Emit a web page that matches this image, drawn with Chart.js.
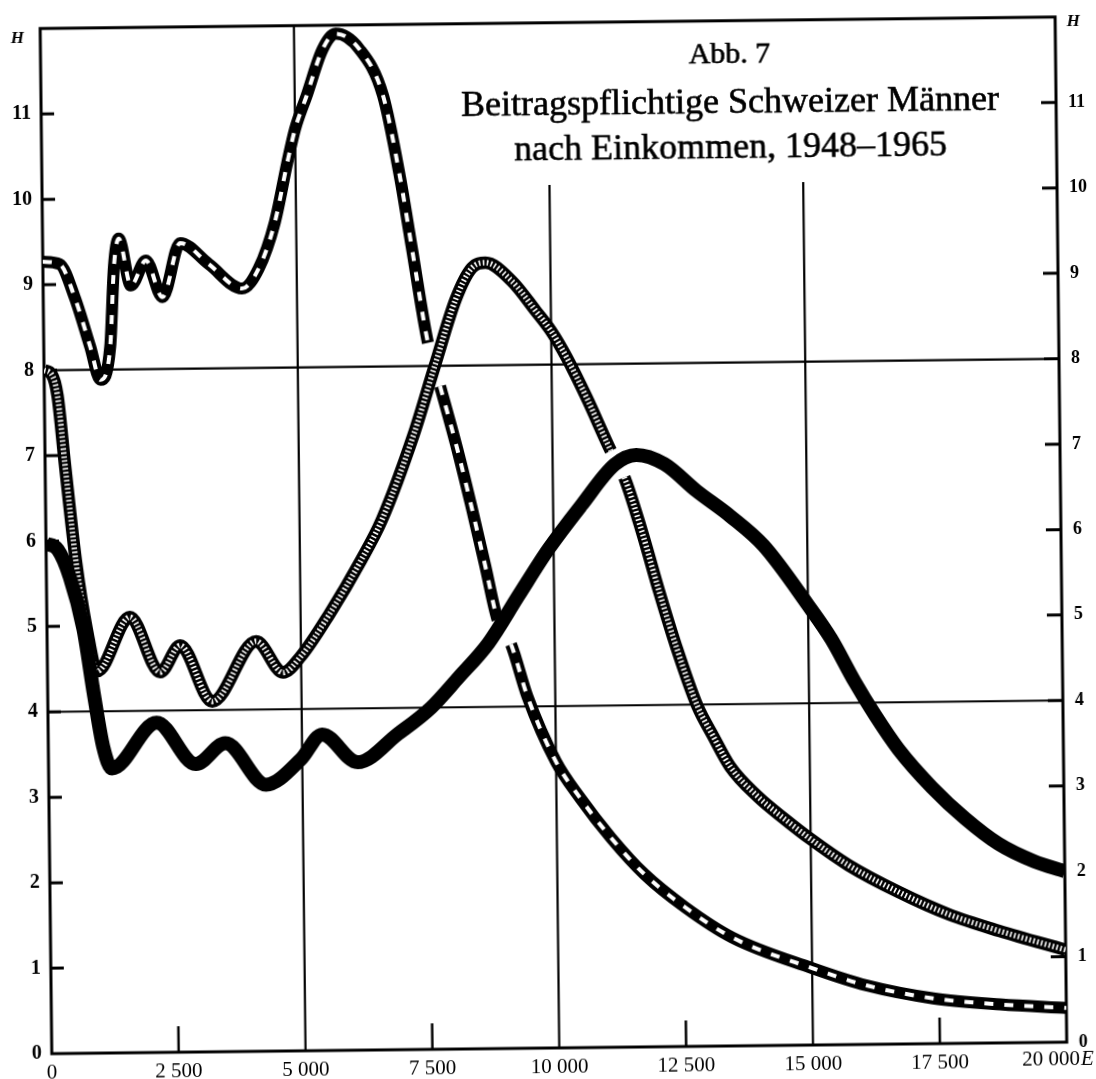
<!DOCTYPE html>
<html lang="de">
<head>
<meta charset="utf-8">
<title>Abb. 7 – Beitragspflichtige Schweizer Männer nach Einkommen</title>
<script src="https://cdn.jsdelivr.net/npm/chart.js@4.4.1/dist/chart.umd.min.js"></script>
<style>
  html, body { margin: 0; padding: 0; background: #fff; overflow: hidden; }
  #chart { display: block; transform: rotate(-0.65deg); transform-origin: 548px 540px; }
</style>
</head>
<body>
<canvas id="chart" width="1096" height="1079"></canvas>
<script>
// Income (E) on the x axis, frequency (H) on the y axis
const xTickValues = [0, 2500, 5000, 7500, 10000, 12500, 15000, 17500, 20000];
const xTickLabels = ['0', '2 500', '5 000', '7 500', '10 000', '12 500', '15 000', '17 500', '20 000'];
const yTickLabels = ['0', '1', '2', '3', '4', '5', '6', '7', '8', '9', '10', '11'];

// curve drawn with white dashes
const dashedX = [0, 330, 620, 915, 1110, 1310, 1400, 1500, 1730, 2030, 2350, 2710, 3270, 3920, 4250, 4580, 4840, 5000, 5230, 5560, 5820, 6280, 6740, 7060, 7270, 7570, 7800, 8125, 8390, 8650, 8880, 9140, 9450, 10000, 10470, 11070, 11720, 12510, 13430, 15000, 16070, 17380, 18700, 20000];
const dashedY = [9.27, 9.24, 8.85, 8.27, 7.88, 8.27, 9.2, 9.53, 8.98, 9.27, 8.84, 9.47, 9.22, 8.93, 9.16, 9.7, 10.4, 10.79, 11.17, 11.72, 11.9, 11.72, 11.17, 10.2, 9.4, 8.27, 7.76, 7.02, 6.35, 5.65, 5.02, 4.73, 4.12, 3.35, 2.92, 2.45, 2.02, 1.63, 1.27, 0.9, 0.69, 0.53, 0.45, 0.4];
const dashedBreaks = [7570, 8880];

// curve drawn with a ladder hatch
const hatchedX = [0, 150, 260, 390, 590, 785, 980, 1635, 2220, 2620, 3240, 4120, 4640, 5000, 5560, 6210, 6620, 7270, 7700, 8130, 8450, 8720, 9240, 9700, 10000, 10300, 10690, 11150, 11410, 11740, 12070, 12400, 12800, 13100, 13430, 13960, 14490, 15000, 15740, 16720, 17710, 18700, 20000];
const hatchedY = [8.0, 7.95, 7.7, 6.9, 5.74, 4.96, 4.47, 5.1, 4.45, 4.76, 4.1, 4.8, 4.43, 4.62, 5.1, 5.74, 6.2, 7.2, 8.0, 8.78, 9.14, 9.2, 8.98, 8.63, 8.39, 8.08, 7.6, 6.98, 6.67, 6.04, 5.33, 4.67, 3.98, 3.63, 3.27, 2.92, 2.65, 2.41, 2.1, 1.78, 1.51, 1.31, 1.08];
const hatchedBreaks = [11150];

// solid black curve
const solidX = [0, 230, 460, 720, 915, 1080, 1250, 2140, 2900, 3490, 4280, 4970, 5400, 6090, 6900, 7550, 8100, 8700, 9300, 9900, 10560, 11220, 11650, 12200, 12830, 13490, 14140, 15000, 15450, 15900, 16300, 16750, 17400, 18050, 18700, 19400, 20000];
const solidY = [5.97, 5.9, 5.58, 4.96, 4.18, 3.59, 3.33, 3.86, 3.37, 3.61, 3.12, 3.41, 3.7, 3.37, 3.7, 4.0, 4.35, 4.75, 5.3, 5.84, 6.35, 6.82, 6.93, 6.82, 6.5, 6.2, 5.85, 5.15, 4.75, 4.25, 3.85, 3.45, 3.0, 2.63, 2.33, 2.12, 2.0];

const serif = '"Liberation Serif", "Times New Roman", serif';

function points(xs, ys) {
    return xs.map((x, i) => ({ x: x, y: ys[i] }));
}

// leave out the short pieces where the printed curve is interrupted
function breakColor(xs, breaks, color) {
    return ctx => breaks.includes(xs[ctx.p0DataIndex]) ? 'rgba(0,0,0,0)' : color;
}

function curve(xs, ys, breaks, color, width, dash, order) {
    return {
        data: points(xs, ys),
        borderColor: color,
        borderWidth: width,
        borderDash: dash,
        order: order,
        segment: { borderColor: breakColor(xs, breaks, color) }
    };
}

// old print looks a bit heavier than the plain font
function inkText(ctx, text, x, y) {
    ctx.fillText(text, x, y);
    ctx.strokeText(text, x, y);
}

const paper = {
    id: 'paper',
    beforeDatasetsDraw(chart) {
        const { ctx, chartArea: a, scales: { x, y } } = chart;
        ctx.save();
        ctx.strokeStyle = '#000';
        ctx.fillStyle = '#000';
        ctx.lineCap = 'butt';

        // grid lines at H = 4, 8 and E = 5 000, 10 000, 15 000
        ctx.lineWidth = 2.2;
        ctx.beginPath();
        [4, 8].forEach(v => {
            const py = y.getPixelForValue(v);
            ctx.moveTo(a.left, py);
            ctx.lineTo(a.right, py);
        });
        [[5000, 12], [10000, 10.1], [15000, 10.1]].forEach(([v, top]) => {
            const px = x.getPixelForValue(v);
            ctx.moveTo(px, y.getPixelForValue(top));
            ctx.lineTo(px, a.bottom);
        });
        ctx.stroke();

        // tick marks pointing inwards
        ctx.lineWidth = 3;
        ctx.beginPath();
        for (let v = 1; v < yTickLabels.length; v++) {
            const py = y.getPixelForValue(v);
            ctx.moveTo(a.left, py);
            ctx.lineTo(a.left + 13, py);
            ctx.moveTo(a.right - 15, py);
            ctx.lineTo(a.right, py);
        }
        ctx.stroke();
        ctx.lineWidth = 2.5;
        ctx.beginPath();
        [2500, 7500, 12500, 17500].forEach(v => {
            const px = x.getPixelForValue(v);
            ctx.moveTo(px, a.bottom);
            ctx.lineTo(px, a.bottom - 26);
        });
        ctx.stroke();

        // frame
        ctx.lineWidth = 3;
        ctx.strokeRect(a.left, a.top, a.right - a.left, a.bottom - a.top);

        // title
        const cx = a.left + 689;
        ctx.lineWidth = 0.6;
        ctx.textAlign = 'center';
        ctx.textBaseline = 'alphabetic';
        ctx.font = '30px ' + serif;
        inkText(ctx, 'Abb. 7', cx, a.top + 42);
        ctx.font = '36px ' + serif;
        inkText(ctx, 'Beitragspflichtige Schweizer Männer', cx, a.top + 92);
        inkText(ctx, 'nach Einkommen, 1948–1965', cx, a.top + 137);

        // axis letters
        ctx.textBaseline = 'middle';
        ctx.font = 'italic bold 17px ' + serif;
        ctx.fillText('H', a.left - 23, a.top + 10);
        ctx.fillText('H', a.right + 18, a.top + 5);

        // last income label with the unit letter
        const lx = x.getPixelForValue(20000) + 13;
        ctx.textBaseline = 'top';
        ctx.textAlign = 'right';
        ctx.font = '21px ' + serif;
        ctx.fillText(xTickLabels[xTickLabels.length - 1], lx, a.bottom + 7);
        ctx.textAlign = 'left';
        ctx.font = 'italic 21px ' + serif;
        ctx.fillText('E', lx + 1, a.bottom + 7);
        ctx.restore();
    }
};

const yAxis = (position, width, size, padding) => ({
    position: position,
    min: 0,
    max: 12,
    afterFit: s => { s.width = width; },
    grid: { display: false, drawTicks: false },
    border: { display: false },
    ticks: {
        stepSize: 1,
        autoSkip: false,
        padding: padding,
        color: '#000',
        font: { family: serif, size: size, weight: 'bold' },
        callback: v => yTickLabels[v] !== undefined ? yTickLabels[v] : ''
    }
});

new Chart(document.getElementById('chart'), {
    type: 'line',
    data: {
        datasets: [
            curve(solidX, solidY, [], '#000', 14, [], 0),
            curve(hatchedX, hatchedY, hatchedBreaks, '#fff', 5.5, [1.6, 2.4], 1),
            curve(hatchedX, hatchedY, hatchedBreaks, '#000', 12.5, [], 2),
            curve(dashedX, dashedY, dashedBreaks, '#fff', 4, [9, 11], 3),
            curve(dashedX, dashedY, dashedBreaks, '#000', 12, [], 4)
        ]
    },
    options: {
        responsive: false,
        animation: false,
        events: [],
        layout: { padding: { top: 22, left: 0, right: 0, bottom: 0 } },
        plugins: { legend: { display: false }, tooltip: { enabled: false } },
        elements: {
            point: { radius: 0 },
            line: { cubicInterpolationMode: 'monotone', borderCapStyle: 'butt', borderJoinStyle: 'round', fill: false }
        },
        scales: {
            x: {
                type: 'linear',
                min: 0,
                max: 20000,
                afterFit: s => { s.height = 31; },
                afterBuildTicks: s => { s.ticks = xTickValues.map(v => ({ value: v })); },
                grid: { display: false, drawTicks: false },
                border: { display: false },
                ticks: {
                    autoSkip: false,
                    maxRotation: 0,
                    padding: 7,
                    color: '#000',
                    font: { family: serif, size: 21 },
                    callback: v => {
                        const i = xTickValues.indexOf(v);
                        return i >= 0 && i < xTickValues.length - 1 ? xTickLabels[i] : '';
                    }
                }
            },
            y: yAxis('left', 46, 20, 10),
            y2: yAxis('right', 35, 18, 12)
        }
    },
    plugins: [paper]
});
</script>
</body>
</html>
